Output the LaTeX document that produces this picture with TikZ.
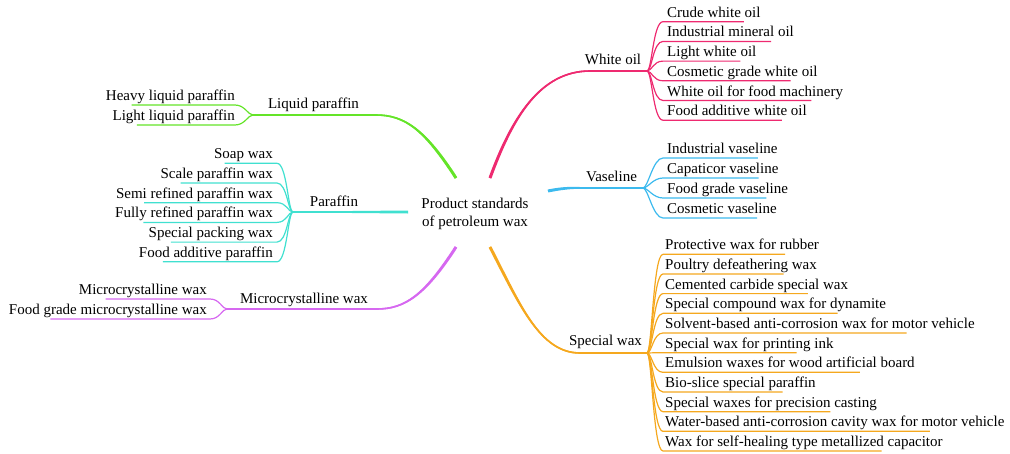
\documentclass[tikz,border=0pt]{standalone}
\usepackage{fontspec}
\setmainfont{Liberation Serif}
\usetikzlibrary{calc}
\definecolor{cWO}{RGB}{238,42,112}
\definecolor{cVA}{RGB}{60,186,238}
\definecolor{cSW}{RGB}{245,168,30}
\definecolor{cLP}{RGB}{100,228,40}
\definecolor{cPA}{RGB}{64,224,208}
\definecolor{cMC}{RGB}{214,104,240}
\tikzset{
  lbl/.style={inner sep=0pt, font=\fontsize{15}{18}\selectfont},
  kidR/.style={lbl, anchor=base west},
  kidL/.style={lbl, anchor=base east},
  mainlbl/.style={lbl, anchor=base},
  mainline/.style={line width=1.6pt},
  kidline/.style={line width=1.2pt},
}
\begin{document}
\begin{tikzpicture}[x=1pt,y=-1pt]
\useasboundingbox (0,0) rectangle (1010,453);
% root
\node[lbl, align=center] (root) at (475,214) {Product standards\\of petroleum wax};
\coordinate (sWO) at (490,178);
\coordinate (sVA) at (548,191);
\coordinate (sSW) at (490,247);
\coordinate (sLP) at (456,178);
\coordinate (sPA) at (408,212);
\coordinate (sMC) at (456,247);
% branch points
\coordinate (bWO) at (647,71);
\coordinate (bVA) at (643,188);
\coordinate (bSW) at (647,353);
\coordinate (bLP) at (253,115);
\coordinate (bPA) at (293,212);
\coordinate (bMC) at (227,309);
% main labels
\node[mainlbl] (WO) at (613,64) {White oil};
\node[mainlbl] (VA) at (611.5,181) {Vaseline};
\node[mainlbl] (SW) at (605.5,345) {Special wax};
\node[mainlbl] (LP) at (313.5,108) {Liquid paraffin};
\node[mainlbl] (PA) at (334,206) {Paraffin};
\node[mainlbl] (MC) at (304,303) {Microcrystalline wax};
% main lines
\draw[mainline,cWO] (sWO) .. controls (512,118) and (540,71) .. (590,71) -- (bWO);
\draw[mainline,cVA] (sVA) .. controls (568,187) and (575,188) .. (590,188) -- (bVA);
\draw[mainline,cSW] (sSW) .. controls (520,305) and (540,353) .. (580,353) -- (bSW);
\draw[mainline,cLP] (sLP) .. controls (425,130) and (405,115) .. (376,115) -- (bLP);
\draw[mainline,cPA] (sPA) -- (bPA);
\draw[mainline,cMC] (sMC) .. controls (425,295) and (405,309) .. (377,309) -- (bMC);
% tapered thickening near the root
\fill[cWO] (491.41,178.52) .. controls (513.41,118.52) and (540,71.8) .. (590,71.8) -- (590,70.2) .. controls (540,70.2) and (510.59,117.48) .. (488.59,177.48) -- cycle;
\fill[cVA] (548.29,192.47) .. controls (568.29,188.47) and (575,188.8) .. (590,188.8) -- (590,187.2) .. controls (575,187.2) and (567.71,185.53) .. (547.71,189.53) -- cycle;
\fill[cSW] (488.67,247.69) .. controls (518.67,305.69) and (540,353.8) .. (580,353.8) -- (580,352.2) .. controls (540,352.2) and (521.33,304.31) .. (491.33,246.31) -- cycle;
\fill[cLP] (457.26,177.19) .. controls (426.26,129.19) and (405,114.2) .. (376,114.2) -- (376,115.8) .. controls (405,115.8) and (423.74,130.81) .. (454.74,178.81) -- cycle;
\fill[cMC] (454.74,246.19) .. controls (423.74,294.19) and (405,308.2) .. (377,308.2) -- (377,309.8) .. controls (405,309.8) and (426.26,295.81) .. (457.26,247.81) -- cycle;
\fill[cPA] (408,210.5) -- (330,211.2) -- (330,212.8) -- (408,213.5) -- cycle;
% right children
\foreach \t [count=\i from 0] in {Crude white oil, Industrial mineral oil, Light white oil, Cosmetic grade white oil, White oil for food machinery, Food additive white oil} {
  \node[kidR] (wo\i) at (667,{17.2+19.7*\i}) {\t};
  \draw[kidline,cWO] (bWO) .. controls +(5,0) and +(-10,0) .. ($(wo\i.base west)+(-4,4.5)$) -- ($(wo\i.base west)!0.82!(wo\i.base east)+(0,4.5)$);
}
\foreach \t [count=\i from 0] in {Industrial vaseline, Capaticor vaseline, Food grade vaseline, Cosmetic vaseline} {
  \node[kidR] (va\i) at (667,{153.5+20*\i}) {\t};
  \draw[kidline,cVA] (bVA) .. controls +(5,0) and +(-10,0) .. ($(va\i.base west)+(-4,4.5)$) -- ($(va\i.base west)!0.82!(va\i.base east)+(0,4.5)$);
}
\foreach \t [count=\i from 0] in {Protective wax for rubber, Poultry defeathering wax, Cemented carbide special wax, Special compound wax for dynamite, Solvent-based anti-corrosion wax for motor vehicle, Special wax for printing ink, Emulsion waxes for wood artificial board, Bio-slice special paraffin, Special waxes for precision casting, Water-based anti-corrosion cavity wax for motor vehicle, Wax for self-healing type metallized capacitor} {
  \node[kidR] (sw\i) at (665,{249.8+19.67*\i}) {\t};
  \draw[kidline,cSW] (bSW) .. controls +(5,0) and +(-10,0) .. ($(sw\i.base west)+(-2,4.5)$) -- ($(sw\i.base west)!0.78!(sw\i.base east)+(0,4.5)$);
}
% left children
\foreach \t [count=\i from 0] in {Heavy liquid paraffin, Light liquid paraffin} {
  \node[kidL] (lp\i) at (235,{100.5+20*\i}) {\t};
  \draw[kidline,cLP] (bLP) .. controls +(-5,0) and +(10,0) .. ($(lp\i.base east)+(0,4.5)$) -- ($(lp\i.base east)!0.8!(lp\i.base west)+(0,4.5)$);
}
\foreach \t [count=\i from 0] in {Soap wax, Scale paraffin wax, Semi refined paraffin wax, Fully refined paraffin wax, Special packing wax, Food additive paraffin} {
  \node[kidL] (pa\i) at (273,{158.8+19.7*\i}) {\t};
  \draw[kidline,cPA] (bPA) .. controls +(-5,0) and +(10,0) .. ($(pa\i.base east)+(4,4.5)$) -- ($(pa\i.base east)!0.82!(pa\i.base west)+(0,4.5)$);
}
\foreach \t [count=\i from 0] in {Microcrystalline wax, Food grade microcrystalline wax} {
  \node[kidL] (mc\i) at (207,{294.5+20*\i}) {\t};
  \draw[kidline,cMC] (bMC) .. controls +(-5,0) and +(10,0) .. ($(mc\i.base east)+(3,4.5)$) -- ($(mc\i.base east)!0.79!(mc\i.base west)+(0,4.5)$);
}
\end{tikzpicture}
\end{document}
